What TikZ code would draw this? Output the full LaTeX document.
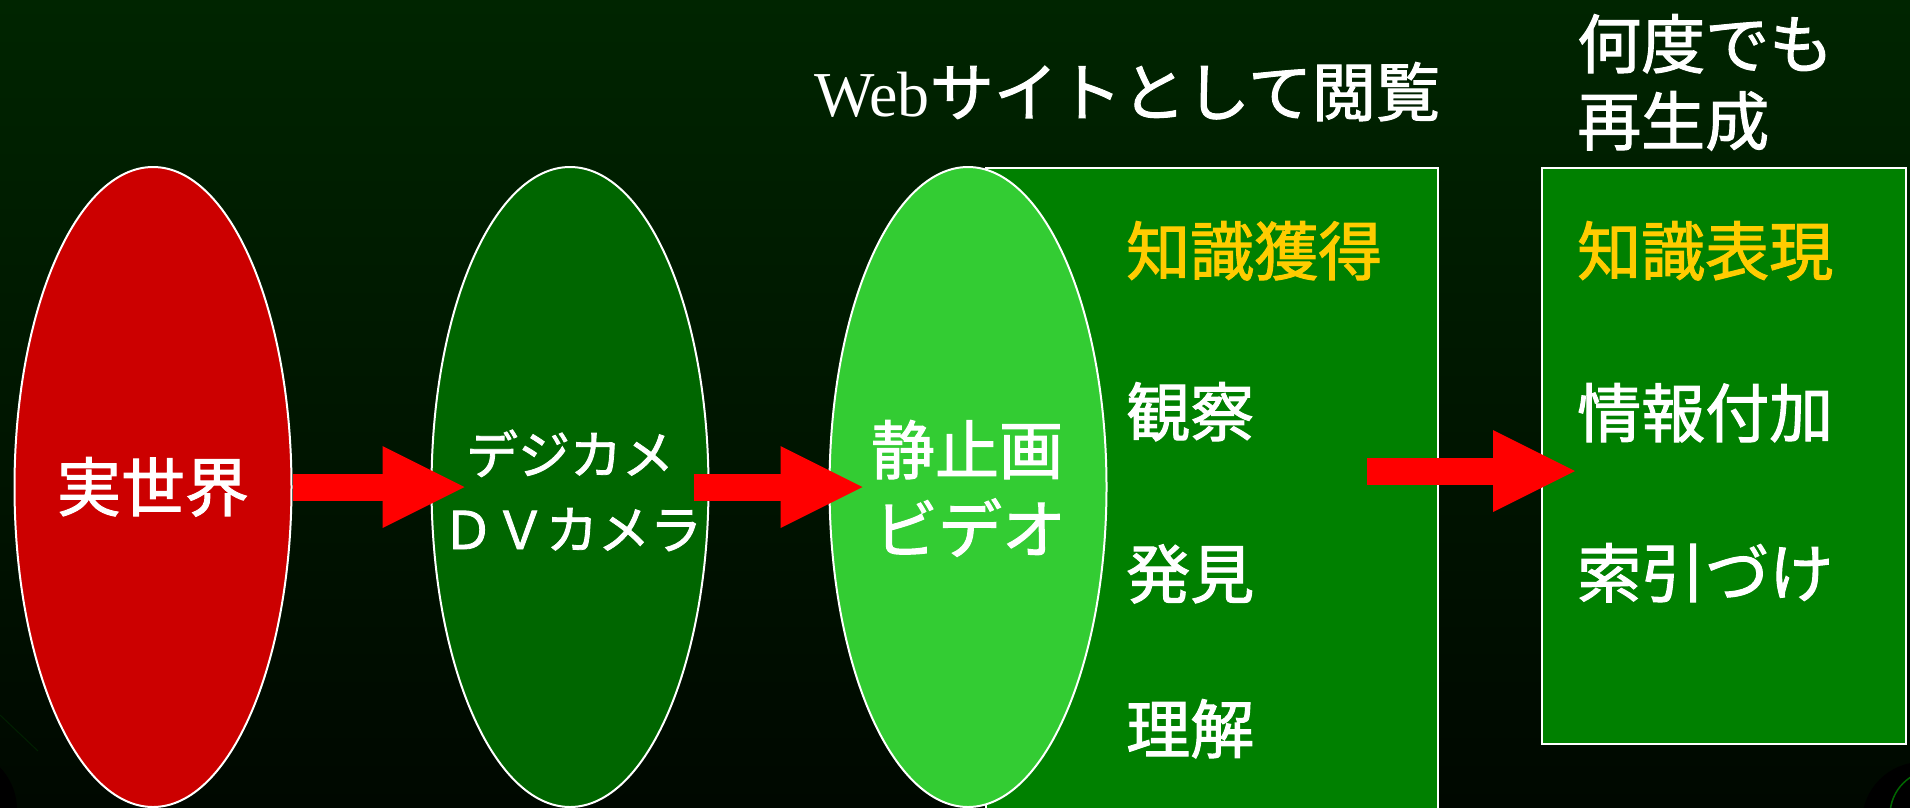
\documentclass[tikz,border=0pt]{standalone}
\usepackage{fontspec}
\setmainfont{Liberation Serif}
\newfontfamily\jp[FakeBold=1.6]{Noto Sans CJK JP}
\usetikzlibrary{shapes.geometric,arrows.meta}
\definecolor{bgtop}{HTML}{002500}
\definecolor{bgbot}{HTML}{000800}
\definecolor{realred}{HTML}{CC0000}
\definecolor{camgreen}{HTML}{006600}
\definecolor{stillgreen}{HTML}{33CC33}
\definecolor{boxgreen}{HTML}{008000}
\definecolor{goldtext}{HTML}{FFCC00}
\definecolor{arrowred}{HTML}{FF0000}
\definecolor{faintgreen}{HTML}{002000}
\tikzset{
  oval/.style={ellipse, draw=white, line width=2pt, minimum width=277pt, minimum height=640pt, inner sep=0pt},
  panel/.style={rectangle, draw=white, line width=2pt, fill=boxgreen, inner sep=0pt, anchor=north west},
  jbig/.style={text=white, inner sep=0pt, font=\jp\fontsize{64}{77}\selectfont, text height=56pt, text depth=8pt},
  jmid/.style={text=white, inner sep=0pt, font=\jp\fontsize{52}{62}\selectfont, text height=46pt, text depth=6pt},
  gold/.style={text=goldtext},
  bigarrow/.style={draw=arrowred, line width=27pt, -{Triangle[length=82pt,width=82pt,line width=0pt]}}
}
\begin{document}
\begin{tikzpicture}[x=1pt,y=-1pt]
\useasboundingbox (0,0) rectangle (1910,807);
\shade[top color=bgtop, bottom color=bgbot] (0,0) rectangle (1910,807);
% corner artefacts
\fill[black] (-45,810) circle[radius=62];
\draw[faintgreen, line width=1pt] (0,715) -- (38,751);
\fill[black] (1922,822) circle[radius=60];
\draw[camgreen, line width=1.5pt] (1935,815) circle[radius=45];
% panels
\node[panel, minimum width=452pt, minimum height=670pt] (r1) at (985,167) {};
\node[panel, minimum width=364pt, minimum height=576pt] (r2) at (1541,167) {};
% ovals
\node[oval, fill=realred, jbig] (real) at (153,487) {実世界};
\node[oval, fill=camgreen] (cam) at (570,487) {};
\node[oval, fill=stillgreen] (still) at (968,487) {};
% oval labels
\node[jmid] (cam1) at (570,454) {デジカメ};
\node[jmid] (cam2) at (572,529) {ＤＶカメラ};
\node[jbig] (still1) at (967,450) {静止画};
\node[jbig] (still2) at (970,529) {ビデオ};
% panel 1 labels
\node[jbig, gold, anchor=west] (acq) at (1126,251) {知識獲得};
\node[jbig, anchor=west] (obs) at (1126,412) {観察};
\node[jbig, anchor=west] (disc) at (1126,574) {発見};
\node[jbig, anchor=west] (und) at (1126,729) {理解};
% panel 2 labels
\node[jbig, gold, anchor=west] (rep) at (1577,251) {知識表現};
\node[jbig, anchor=west] (info) at (1577,413) {情報付加};
\node[jbig, anchor=west] (idx) at (1577,573) {索引づけ};
% titles
\node[jbig, anchor=west] (web) at (814,92) {{\rmfamily Web}サイトとして閲覧};
\node[jbig, anchor=west] (regen1) at (1577,44) {何度でも};
\node[jbig, anchor=west] (regen2) at (1577,121) {再生成};
% arrows
\draw[bigarrow] (real.east) -- ([xshift=34pt]cam.west);
\draw[bigarrow] ([xshift=-16pt]cam.east) -- ([xshift=34pt]still.west);
\coordinate (a3) at (1367,471);
\path (r2.west |- a3) ++(34,0) coordinate (a3e);
\draw[bigarrow] (a3) -- (a3e);
\end{tikzpicture}
\end{document}
